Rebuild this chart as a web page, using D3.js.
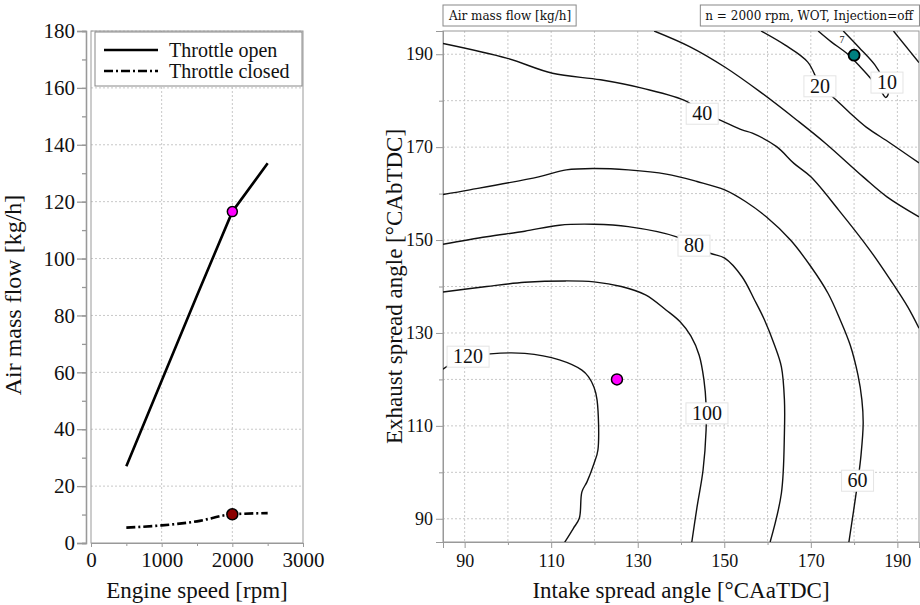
<!DOCTYPE html>
<html>
<head>
<meta charset="utf-8">
<script src="https://cdn.jsdelivr.net/npm/d3@7"></script>
<style>
  body { margin: 0; background: #fff; }
  text { font-family: "Liberation Serif", serif; fill: #111; }
</style>
</head>
<body>
<div id="chart"></div>
<script>
// ---- left panel data (air mass flow vs engine speed)
const engineSpeed = [500, 1000, 1500, 2000, 2500];
const flowThrottleOpen = [27, 57, 87, 116.5, 133.5];
const flowThrottleClosed = [5.4, 6.2, 7.6, 10.1, 10.5];
const seriesNames = ["Throttle open", "Throttle closed"];
const speedTicks = [0, 1000, 2000, 3000];
const flowTicks = [0, 20, 40, 60, 80, 100, 120, 140, 160, 180];
const markOpen = [2000, 116.5];
const markClosed = [2000, 10.1];

// ---- right panel data: contour lines [intake, exhaust]
const intakeTicks = [90, 110, 130, 150, 170, 190];
const exhaustTicks = [90, 110, 130, 150, 170, 190];
const iso120 = [[85,122.2],[86.4,123.1],[91.2,124.8],[95.9,125.5],[103.9,125.6],[111.9,124.2],[117.1,122.0],[118.6,120.6],[119.9,118.3],[120.6,115.6],[120.8,104.8],[119.9,101.9],[118.3,98.0],[117.1,95.8],[116.5,90.1],[115.1,87.9],[113.1,84.9]];
const iso100 = [[85,138.8],[95.1,140.0],[103.9,140.9],[113.4,141.2],[119.9,141.0],[126.2,140.0],[131.8,138.2],[136.6,134.9],[139.8,132.4],[142.3,129.3],[144.2,125.2],[145.3,119.9],[145.8,114.5],[145.8,109.1],[145.1,100.5],[143.7,92.5],[142.5,85]];
const iso80 = [[85,149.1],[95.1,150.7],[103.9,151.9],[111.9,153.2],[119.9,153.4],[127.8,152.9],[139,150.7],[143,148.9],[146.9,147.1],[150.1,146.1],[154.1,142.1],[157,137.1],[159.3,132.8],[161.6,127.4],[163.2,122.7],[163.9,115.6],[163.9,108.5],[163.2,95.5],[160.6,85]];
const iso60 = [[85,159.8],[91.2,160.8],[107.1,163.6],[113.5,165.1],[119.9,165.4],[127.8,165.1],[136.6,164.2],[143.7,162.6],[150.1,160.8],[154.9,158.3],[159.7,155],[165.3,150],[170,144.3],[174,138.5],[176.8,132.8],[179.1,127.4],[180.9,120.9],[181.8,115.6],[182.1,110.6],[181.6,103.7],[180.9,98.3],[178.8,85]];
const iso40 = [[85,192.3],[99.9,189.1],[110.3,185.9],[121.4,184.5],[131,182.7],[141.4,179.8],[145,177.1],[148.1,176.2],[154.1,173.7],[156.5,173],[162.1,170.1],[166.1,166.5],[170,163.6],[176.4,156.5],[183.6,147.9],[188.4,141.4],[192.4,135.6],[195,131]];
const iso30 = [[133.8,195],[142.1,191.6],[150.2,187.2],[158.3,181.9],[166.8,175.8],[173.3,170.9],[182.1,163.6],[187.6,159.3],[195,155]];
const iso20 = [[158.5,195],[164,192],[169.3,188.3],[172.4,182.9],[175.1,180.8],[179.1,177.3],[182.8,174.3],[188.3,170.9],[195,166.6]];
const iso20b = [[189.1,195],[195,188.2]];
const iso10 = [[171.7,195],[174.8,192.6],[178.3,190.2],[181.4,187.3],[184.1,184.5],[186.4,181.8],[187.3,180.7],[187.9,181.5],[186.4,185.2],[184.8,187.7],[181.2,191.4],[177.5,195]];
const contourLines = [iso120, iso100, iso80, iso60, iso40, iso30, iso20, iso20b, iso10];
const labelText = ["120", "100", "80", "60", "40", "20", "10"];
const labelAt = [[90.8,125], [146,112.8], [143,148.9], [180.8,98.3], [144.9,177.3], [172.1,183.2], [187.6,184]];
const markRight = [125.2, 120];
const markMin = [180, 189.8];

const W = 920, H = 605;
const serif = "'Liberation Serif', serif";
const svg = d3.select("#chart").append("svg")
  .attr("width", W)
  .attr("height", H);

const gridCol = "#c8c8c8", axisCol = "#999";

function styleAxis(ax, size) {
  ax.attr("font-family", null);
  ax.selectAll("path,line").attr("stroke", axisCol);
  ax.selectAll("text")
    .attr("fill", "#111")
    .style("font-family", serif)
    .style("font-size", size + "px");
}

// ================= left panel =================
const L = {x0: 91, x1: 303, y0: 31, y1: 543};
const xSpeed = d3.scaleLinear().domain([0, 3000]).range([L.x0, L.x1]);
const yFlow = d3.scaleLinear().domain([0, 180]).range([L.y1, L.y0]);

const gl = svg.append("g");

// grid
gl.selectAll(".vg").data([1000, 2000]).enter().append("line")
  .attr("x1", d => xSpeed(d)).attr("x2", d => xSpeed(d))
  .attr("y1", L.y0).attr("y2", L.y1)
  .attr("stroke", gridCol).attr("stroke-dasharray", "2,2");
gl.selectAll(".hg").data(flowTicks.slice(1)).enter().append("line")
  .attr("x1", L.x0).attr("x2", L.x1)
  .attr("y1", d => yFlow(d)).attr("y2", d => yFlow(d))
  .attr("stroke", gridCol).attr("stroke-dasharray", "2,2");

gl.append("rect")
  .attr("x", L.x0).attr("y", L.y0)
  .attr("width", L.x1 - L.x0).attr("height", L.y1 - L.y0)
  .attr("fill", "none").attr("stroke", axisCol);

// y axis (a bit detached from the box)
const yAxL = gl.append("g").attr("transform", "translate(" + (L.x0 - 5) + ",0)");
yAxL.call(d3.axisLeft(yFlow).tickValues(d3.range(0, 181, 10)).tickSize(4).tickFormat(""));
yAxL.append("g").call(d3.axisLeft(yFlow).tickValues(flowTicks).tickSize(9).tickPadding(2));
styleAxis(yAxL, 21);
yAxL.selectAll("g").attr("font-family", null);
yAxL.selectAll("path,line").attr("stroke-width", 1.3);

const xAxL = gl.append("g").attr("transform", "translate(0," + L.y1 + ")");
xAxL.call(d3.axisBottom(xSpeed).tickValues([500, 1500, 2500]).tickSize(3).tickFormat(""));
xAxL.append("g").call(d3.axisBottom(xSpeed).tickValues(speedTicks).tickSize(4).tickPadding(5).tickFormat(d3.format("d")));
styleAxis(xAxL, 21);
xAxL.selectAll("g").attr("font-family", null);

const lineL = d3.line()
  .x(d => xSpeed(d[0]))
  .y(d => yFlow(d[1]));

gl.append("path")
  .datum(d3.zip(engineSpeed, flowThrottleOpen))
  .attr("d", lineL)
  .attr("fill", "none").attr("stroke", "#000").attr("stroke-width", 2.6)
  .attr("stroke-linejoin", "round");
gl.append("path")
  .datum(d3.zip(engineSpeed, flowThrottleClosed))
  .attr("d", lineL.curve(d3.curveMonotoneX))
  .attr("fill", "none").attr("stroke", "#000").attr("stroke-width", 2.6)
  .attr("stroke-dasharray", "9,3,2,3");

gl.append("circle")
  .attr("cx", xSpeed(markOpen[0])).attr("cy", yFlow(markOpen[1])).attr("r", 5)
  .attr("fill", "#ff00ff").attr("stroke", "#000").attr("stroke-width", 1.5);
gl.append("circle")
  .attr("cx", xSpeed(markClosed[0])).attr("cy", yFlow(markClosed[1])).attr("r", 5.5)
  .attr("fill", "#8b0000").attr("stroke", "#000").attr("stroke-width", 1.5);

// legend
const lg = gl.append("g").attr("transform", "translate(95,32)");
lg.append("rect").attr("width", 207).attr("height", 54)
  .attr("fill", "#fff").attr("stroke", "#888");
seriesNames.forEach((name, i) => {
  const y = 18 + i * 21;
  lg.append("line").attr("x1", 9).attr("x2", 63).attr("y1", y).attr("y2", y)
    .attr("stroke", "#000").attr("stroke-width", 2.6)
    .attr("stroke-dasharray", i ? "9,3,2,3" : null);
  lg.append("text").attr("x", 74).attr("y", y).attr("dy", "0.35em")
    .style("font-family", serif).style("font-size", "20px").text(name);
});

gl.append("text")
  .attr("x", (L.x0 + L.x1) / 2).attr("y", 598)
  .attr("text-anchor", "middle")
  .style("font-family", serif).style("font-size", "23px")
  .text("Engine speed [rpm]");
gl.append("text")
  .attr("transform", "translate(21," + ((L.y0 + L.y1) / 2 + 8) + ")rotate(-90)")
  .attr("text-anchor", "middle")
  .style("font-family", serif).style("font-size", "24px")
  .text("Air mass flow [kg/h]");

// ================= right panel =================
const R = {x0: 443, x1: 919, y0: 31, y1: 542};
const xIn = d3.scaleLinear().domain([85, 195]).range([R.x0, R.x1]);
const yEx = d3.scaleLinear().domain([85, 195]).range([R.y1, R.y0]);

const gr = svg.append("g");
gr.append("clipPath").attr("id", "clipR").append("rect")
  .attr("x", R.x0).attr("y", R.y0).attr("width", R.x1 - R.x0).attr("height", R.y1 - R.y0);

gr.selectAll(".vg").data(d3.range(90, 195, 10)).enter().append("line")
  .attr("x1", d => xIn(d)).attr("x2", d => xIn(d))
  .attr("y1", R.y0).attr("y2", R.y1)
  .attr("stroke", gridCol).attr("stroke-dasharray", "2,2");
gr.selectAll(".hg").data(d3.range(90, 195, 10)).enter().append("line")
  .attr("x1", R.x0).attr("x2", R.x1)
  .attr("y1", d => yEx(d)).attr("y2", d => yEx(d))
  .attr("stroke", gridCol).attr("stroke-dasharray", "2,2");

gr.append("rect")
  .attr("x", R.x0).attr("y", R.y0)
  .attr("width", R.x1 - R.x0).attr("height", R.y1 - R.y0)
  .attr("fill", "none").attr("stroke", axisCol);

const yAxR = gr.append("g").attr("transform", "translate(" + R.x0 + ",0)");
yAxR.call(d3.axisLeft(yEx).tickValues(d3.range(100, 195, 20)).tickSize(4).tickFormat(""));
yAxR.append("g").call(d3.axisLeft(yEx).tickValues(exhaustTicks).tickSize(7).tickPadding(3));
styleAxis(yAxR, 18);
yAxR.selectAll("g").attr("font-family", null);

const xAxR = gr.append("g").attr("transform", "translate(0," + R.y1 + ")");
xAxR.call(d3.axisBottom(xIn).tickValues(d3.range(100, 195, 20)).tickSize(3).tickFormat(""));
xAxR.append("g").call(d3.axisBottom(xIn).tickValues(intakeTicks).tickSize(6).tickPadding(6));
styleAxis(xAxR, 18);
xAxR.selectAll("g").attr("font-family", null);

const isoLine = d3.line()
  .x(d => xIn(d[0]))
  .y(d => yEx(d[1]))
  .curve(d3.curveCatmullRom.alpha(0.5));

const gc = gr.append("g").attr("clip-path", "url(#clipR)");
gc.selectAll(".iso").data(contourLines).enter().append("path")
  .attr("d", isoLine)
  .attr("fill", "none").attr("stroke", "#111").attr("stroke-width", 1.4);

// contour labels on white boxes
labelText.forEach((t, i) => {
  const g = gc.append("g");
  const tx = g.append("text")
    .attr("x", xIn(labelAt[i][0])).attr("y", yEx(labelAt[i][1]))
    .attr("dy", "0.35em").attr("text-anchor", "middle")
    .style("font-family", serif).style("font-size", "20px").text(t);
  const bb = tx.node().getBBox();
  g.insert("rect", "text")
    .attr("x", bb.x - 6).attr("y", bb.y + 1)
    .attr("width", bb.width + 12).attr("height", bb.height - 1)
    .attr("fill", "#fff").attr("stroke", "#e4e4e4");
});
gc.append("text")
  .attr("x", xIn(177.2)).attr("y", yEx(192.4))
  .attr("text-anchor", "middle")
  .style("font-family", serif).style("font-size", "10px").text("7");

gr.append("circle")
  .attr("cx", xIn(markRight[0])).attr("cy", yEx(markRight[1])).attr("r", 5.5)
  .attr("fill", "#ff00ff").attr("stroke", "#000").attr("stroke-width", 1.5);
gr.append("circle")
  .attr("cx", xIn(markMin[0])).attr("cy", yEx(markMin[1])).attr("r", 5.5)
  .attr("fill", "#008080").attr("stroke", "#000").attr("stroke-width", 1.8);

// title tags above the map
function tag(x, anchor, txt) {
  const g = gr.append("g");
  const tx = g.append("text").attr("x", x).attr("y", 16).attr("dy", "0.35em")
    .attr("text-anchor", anchor)
    .style("font-family", "'DejaVu Serif', serif").style("font-size", "12px")
    .text(txt);
  const bb = tx.node().getBBox();
  g.insert("rect", "text")
    .attr("x", bb.x - 5).attr("y", 5)
    .attr("width", bb.width + 10).attr("height", 21)
    .attr("fill", "#fff").attr("stroke", "#888");
}
tag(449, "start", "Air mass flow [kg/h]");
tag(913, "end", "n = 2000 rpm, WOT, Injection=off");

gr.append("text")
  .attr("x", (R.x0 + R.x1) / 2).attr("y", 598)
  .attr("text-anchor", "middle")
  .style("font-family", serif).style("font-size", "23px")
  .text("Intake spread angle [°CAaTDC]");
gr.append("text")
  .attr("transform", "translate(402," + ((R.y0 + R.y1) / 2) + ")rotate(-90)")
  .attr("text-anchor", "middle")
  .style("font-family", serif).style("font-size", "23px")
  .text("Exhaust spread angle [°CAbTDC]");
</script>
</body>
</html>
